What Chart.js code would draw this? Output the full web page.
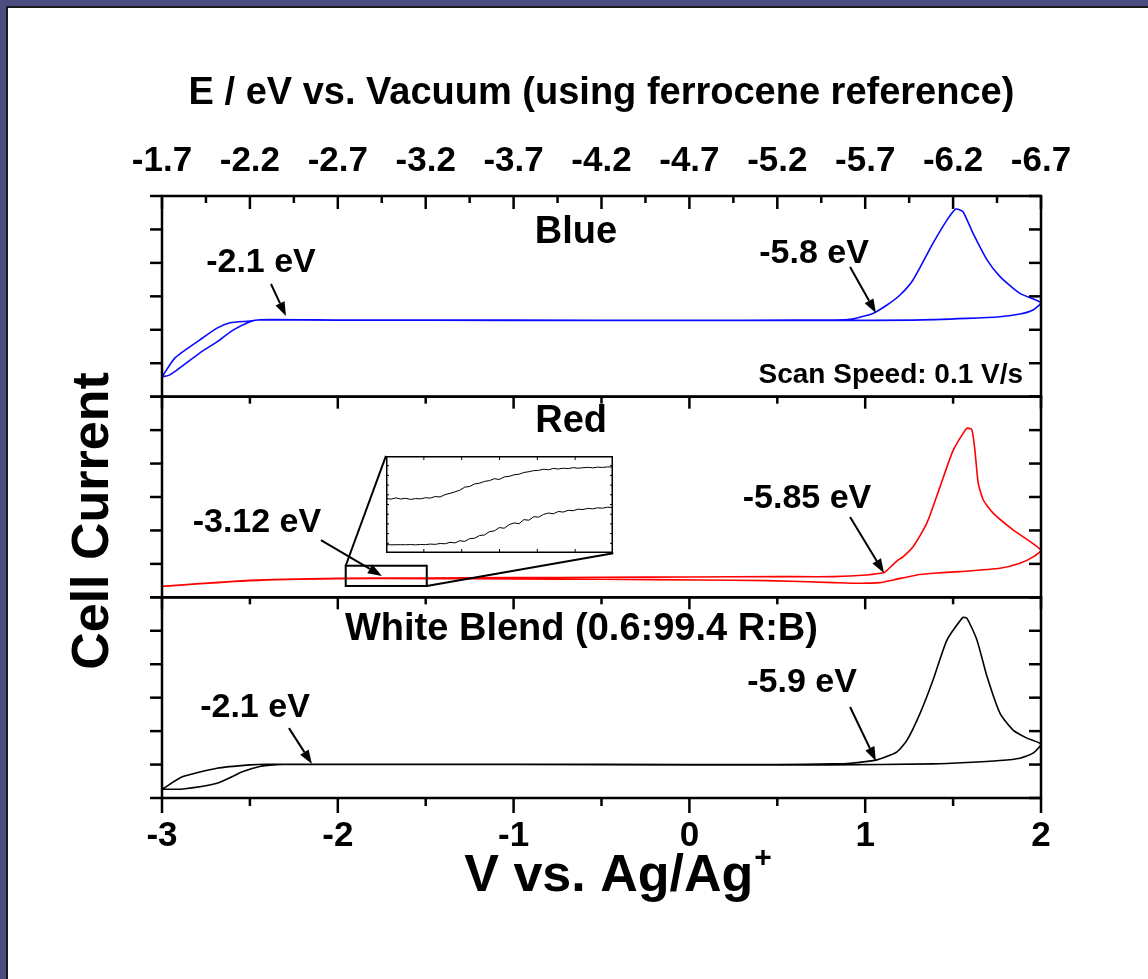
<!DOCTYPE html>
<html>
<head>
<meta charset="utf-8">
<title>Cell current vs. potential</title>
<script src="https://cdn.jsdelivr.net/npm/chart.js@4.4.1/dist/chart.umd.min.js"></script>
<style>
  html, body { margin: 0; padding: 0; }
  body { width: 1148px; height: 979px; background: #4d4c80; position: relative; overflow: hidden; }
  .slide { position: absolute; left: 6px; top: 6px; right: 0; bottom: 0; background: #fff;
           border-left: 2px solid #1a1a1a; border-top: 2px solid #1a1a1a; }
  #main { position: absolute; left: 0; top: 0; }
  #insetBox { position: absolute; background: #fff; }
  #insetBox canvas { display: block; }
</style>
</head>
<body>
<div class="slide"></div>
<canvas id="main" width="1148" height="979"></canvas>
<div id="insetBox"><canvas id="inset"></canvas></div>
<script>
"use strict";
const FONT = "'Liberation Sans', Arial, Helvetica, sans-serif";
Chart.defaults.font.family = FONT;
Chart.defaults.color = "#000";

// axis ticks: bottom in V vs Ag/Ag+, top in eV vs vacuum
const vTicks = [-3, -2, -1, 0, 1, 2];
const eTicks = [-1.7, -2.2, -2.7, -3.2, -3.7, -4.2, -4.7, -5.2, -5.7, -6.2, -6.7];

// Blue: forward scan then return scan
const blueV = [-3.0, -2.926, -2.784, -2.687, -2.613, -2.499, -2.443, -2.0, -1.0, 0.0, 0.6, 0.817, 0.914, 1.044, 1.124, 1.198, 1.272, 1.386, 1.465, 1.516, 1.556, 1.613, 1.693, 1.767, 1.880, 2.0,
               1.955, 1.880, 1.767, 1.579, 1.272, 0.817, 0.0, -1.0, -2.0, -2.443, -2.499, -2.596, -2.687, -2.784, -2.955, -3.0];
const blueI = [0.59, 1.16, 1.70, 2.05, 2.21, 2.26, 2.30, 2.29, 2.29, 2.28, 2.29, 2.29, 2.31, 2.49, 2.74, 3.04, 3.49, 4.59, 5.28, 5.61, 5.53, 4.89, 4.09, 3.59, 3.09, 2.81,
               2.59, 2.47, 2.39, 2.34, 2.29, 2.28, 2.28, 2.28, 2.29, 2.30, 2.24, 1.99, 1.64, 1.31, 0.65, 0.59];

// Red
const redV = [-3.0, -2.5, -2.0, -1.5, -1.0, -0.5, 0.0, 0.5, 0.819, 1.009, 1.109, 1.122, 1.188, 1.215, 1.272, 1.350, 1.426, 1.501, 1.577, 1.606, 1.624, 1.643, 1.672, 1.729, 1.843, 2.0,
              1.956, 1.880, 1.767, 1.539, 1.387, 1.293, 1.160, 1.084, 0.971, 0.819, 0.440, 0.060, -0.5, -1.0, -1.5, -2.0, -2.5, -3.0];
const redI = [0.33, 0.51, 0.57, 0.58, 0.59, 0.60, 0.61, 0.62, 0.62, 0.67, 0.74, 0.80, 1.12, 1.21, 1.51, 2.21, 3.31, 4.40, 5.05, 5.02, 4.40, 3.41, 2.91, 2.51, 2.01, 1.41,
              1.21, 1.02, 0.87, 0.77, 0.72, 0.67, 0.52, 0.44, 0.42, 0.44, 0.50, 0.52, 0.54, 0.55, 0.56, 0.56, 0.50, 0.33];

// White blend
const whiteV = [-3.0, -2.881, -2.687, -2.499, -2.403, -2.0, -1.0, 0.0, 0.5, 0.817, 0.914, 1.067, 1.181, 1.238, 1.312, 1.386, 1.465, 1.556, 1.579, 1.636, 1.693, 1.767, 1.841, 1.920, 2.0,
                1.955, 1.880, 1.767, 1.579, 1.386, 0.8, 0.0, -1.0, -2.0, -2.312, -2.443, -2.539, -2.687, -2.881, -3.0];
const whiteI = [0.26, 0.64, 0.89, 0.99, 1.01, 1.01, 1.01, 1.00, 1.00, 1.02, 1.04, 1.14, 1.38, 1.73, 2.53, 3.53, 4.72, 5.40, 5.37, 4.72, 3.63, 2.53, 2.03, 1.79, 1.61,
                1.34, 1.19, 1.12, 1.06, 1.02, 0.99, 0.99, 1.00, 1.00, 1.00, 0.94, 0.79, 0.44, 0.27, 0.26];

// zoomed piece of the red scan (inset)
const insetV = [-1.955, -1.945, -1.935, -1.925, -1.915, -1.905, -1.895, -1.885, -1.875, -1.865, -1.855, -1.845, -1.835, -1.825, -1.815, -1.805,
                -1.795, -1.785, -1.775, -1.765, -1.755, -1.745, -1.735, -1.725, -1.715, -1.705, -1.695, -1.685, -1.675, -1.665, -1.655, -1.645,
                -1.635, -1.625, -1.615, -1.605, -1.595, -1.585, -1.575, -1.565, -1.555, -1.545, -1.535, -1.525, -1.515, -1.505, -1.495];
const insetUpper = [5.62, 5.55, 5.68, 5.57, 5.64, 5.52, 5.61, 5.58, 5.70, 5.66, 5.82, 5.78, 6.02, 6.15, 6.30, 6.48,
                    6.79, 6.86, 7.12, 7.20, 7.38, 7.46, 7.66, 7.58, 7.84, 7.90, 8.06, 8.12, 8.30, 8.38, 8.49, 8.52,
                    8.64, 8.58, 8.72, 8.66, 8.74, 8.70, 8.80, 8.74, 8.79, 8.83, 8.78, 8.85, 8.82, 8.88, 8.86];
const insetLower = [0.85, 0.85, 0.85, 0.86, 0.85, 0.87, 0.84, 0.88, 0.86, 0.92, 0.89, 0.98, 0.95, 1.10, 1.04, 1.26,
                    1.20, 1.48, 1.52, 1.80, 1.86, 2.20, 2.28, 2.62, 2.55, 2.92, 3.10, 3.02, 3.44, 3.38, 3.74, 3.70,
                    3.98, 4.12, 4.04, 4.28, 4.22, 4.40, 4.36, 4.52, 4.48, 4.60, 4.55, 4.66, 4.62, 4.72, 4.69];

// text placed in data coordinates of each panel
const labels = [
  {axis: "yB", text: "Blue", at: [-0.645, 4.60], size: 38},
  {axis: "yR", text: "Red", at: [-0.673, 4.95], size: 38},
  {axis: "yW", text: "White Blend (0.6:99.4 R:B)", at: [-0.614, 4.72], size: 38}
];
const notes = [
  {axis: "yB", text: "-2.1 eV", at: [-2.437, 3.73], from: [-2.380, 3.37], to: [-2.295, 2.41]},
  {axis: "yB", text: "-5.8 eV", at: [0.709, 4.00], from: [0.914, 3.88], to: [1.061, 2.50]},
  {axis: "yR", text: "-3.12 eV", at: [-2.460, 1.95], from: [-2.096, 1.71], to: [-1.749, 0.64]},
  {axis: "yR", text: "-5.85 eV", at: [0.669, 2.67], from: [0.914, 2.40], to: [1.107, 0.73]},
  {axis: "yW", text: "-2.1 eV", at: [-2.471, 2.42], from: [-2.278, 2.09], to: [-2.147, 1.02]},
  {axis: "yW", text: "-5.9 eV", at: [0.641, 3.17], from: [0.914, 2.72], to: [1.061, 1.11]}
];
// zoom window on the red trace and where its inset sits (red panel coords)
const zoomWin = {v0: -1.955, v1: -1.494, top: 0.945, bottom: 0.34};
const insetWin = {v0: -1.726, v1: -0.433, top: 4.23, bottom: 1.32};

function pts(xs, ys) {
  return xs.map((x, i) => ({x: x, y: ys[i]}));
}

function trace(xs, ys, color, axis) {
  return {data: pts(xs, ys), yAxisID: axis, showLine: true, borderColor: color, borderWidth: 1.6,
          pointRadius: 0, tension: 0.2, fill: false};
}

function seg(ctx, x1, y1, x2, y2) {
  ctx.beginPath();
  ctx.moveTo(x1, y1);
  ctx.lineTo(x2, y2);
  ctx.stroke();
}

function arrow(ctx, x1, y1, x2, y2) {
  const a = Math.atan2(y2 - y1, x2 - x1), L = 14, W = 5;
  const bx = x2 - L * Math.cos(a), by = y2 - L * Math.sin(a);
  ctx.lineWidth = 2;
  seg(ctx, x1, y1, bx, by);
  ctx.beginPath();
  ctx.moveTo(x2, y2);
  ctx.lineTo(bx + W * Math.sin(a), by - W * Math.cos(a));
  ctx.lineTo(bx - W * Math.sin(a), by + W * Math.cos(a));
  ctx.closePath();
  ctx.fill();
}

function boldText(ctx, str, x, y, size, align) {
  ctx.font = "bold " + size + "px " + FONT;
  ctx.textAlign = align || "center";
  ctx.textBaseline = "alphabetic";
  ctx.fillText(str, x, y);
}

function winRect(chart, w) {
  const x = chart.scales.x, y = chart.scales.yR;
  return {l: x.getPixelForValue(w.v0), r: x.getPixelForValue(w.v1),
          t: y.getPixelForValue(w.top), b: y.getPixelForValue(w.bottom)};
}

// frames, tick marks and all the free text
const decor = {
  id: "decor",
  afterDatasetsDraw(chart) {
    const {ctx, chartArea: a, scales: s} = chart;
    ctx.save();
    ctx.strokeStyle = "#000";
    ctx.fillStyle = "#000";

    ctx.lineWidth = 2.5;
    ["yB", "yR", "yW"].forEach(id => {
      const p = s[id];
      ctx.strokeRect(a.left, p.top, a.right - a.left, p.bottom - p.top);
      for (let v = 0; v <= 6; v++) {
        const yy = p.getPixelForValue(v);
        seg(ctx, a.left - 12, yy, a.left, yy);
        seg(ctx, a.right - 12, yy, a.right, yy);
      }
    });

    // top eV axis, ticks pointing in
    for (let k = 0; k <= 20; k++) {
      const xx = s.xTop.getPixelForValue(-1.7 - k * 0.25);
      seg(ctx, xx, a.top, xx, a.top + (k % 2 ? 7 : 13));
    }
    // inner panel tops and outer bottom axis
    for (let k = 0; k <= 10; k++) {
      const xx = s.x.getPixelForValue(-3 + k * 0.5);
      const len = k % 2 ? 7 : 12;
      seg(ctx, xx, s.yR.top, xx, s.yR.top + len);
      seg(ctx, xx, s.yW.top, xx, s.yW.top + len);
      seg(ctx, xx, a.bottom, xx, a.bottom + (k % 2 ? 8 : 15));
    }

    // axis titles
    ctx.save();
    ctx.translate(a.left - 68, (a.top + a.bottom) / 2 + 24);
    ctx.rotate(-Math.PI / 2);
    ctx.font = "bold 52px " + FONT;
    ctx.textAlign = "center";
    ctx.textBaseline = "middle";
    ctx.fillText("Cell Current", 0, 0);
    ctx.restore();

    ctx.font = "bold 52px " + FONT;
    const w1 = ctx.measureText("V vs. Ag/Ag").width;
    ctx.font = "bold 30px " + FONT;
    const w2 = ctx.measureText("+").width;
    const x0 = (a.left + a.right) / 2 + 16 - (w1 + w2) / 2;
    boldText(ctx, "V vs. Ag/Ag", x0, a.bottom + 93, 52, "left");
    boldText(ctx, "+", x0 + w1 + 1, a.bottom + 69, 30, "left");

    labels.forEach(l => {
      boldText(ctx, l.text, s.x.getPixelForValue(l.at[0]), s[l.axis].getPixelForValue(l.at[1]), l.size);
    });
    notes.forEach(n => {
      const p = s[n.axis];
      boldText(ctx, n.text, s.x.getPixelForValue(n.at[0]), p.getPixelForValue(n.at[1]), 34);
      arrow(ctx, s.x.getPixelForValue(n.from[0]), p.getPixelForValue(n.from[1]),
                 s.x.getPixelForValue(n.to[0]), p.getPixelForValue(n.to[1]));
    });
    boldText(ctx, "Scan Speed: 0.1 V/s", s.x.getPixelForValue(1.898), s.yB.getPixelForValue(0.41), 28, "right");

    // zoom window and leader lines to the inset
    const z = winRect(chart, zoomWin), r = winRect(chart, insetWin);
    ctx.lineWidth = 2;
    ctx.strokeRect(z.l, z.t, z.r - z.l, z.b - z.t);
    seg(ctx, z.l, z.t, r.l, r.t);
    seg(ctx, z.r, z.b, r.r, r.b);
    ctx.restore();
  }
};

const tickFont = {family: FONT, size: 35, weight: "bold"};
const panelAxis = {
  type: "linear", position: "left", stack: "cv", stackWeight: 1, min: 0, max: 6,
  ticks: {display: false}, grid: {display: false, drawTicks: false}, border: {display: false},
  afterFit: sc => { sc.width = 162; }
};

const chart = new Chart(document.getElementById("main"), {
  type: "scatter",
  data: {
    datasets: [
      trace(blueV, blueI, "#0a0aff", "yB"),
      trace(redV, redI, "#ff0000", "yR"),
      trace(whiteV, whiteI, "#000000", "yW")
    ]
  },
  options: {
    responsive: false,
    animation: false,
    events: [],
    layout: {padding: {left: 0, right: 107, top: 0, bottom: 0}},
    plugins: {legend: {display: false}, tooltip: {enabled: false}},
    scales: {
      x: {
        type: "linear", position: "bottom", min: -3, max: 2,
        afterBuildTicks: sc => { sc.ticks = vTicks.map(v => ({value: v})); },
        ticks: {autoSkip: false, maxRotation: 0, padding: 17, color: "#000", font: tickFont, callback: v => String(v)},
        grid: {display: false, drawTicks: false}, border: {display: false},
        afterFit: sc => { sc.height = 181; }
      },
      xTop: {
        type: "linear", position: "top", min: -6.7, max: -1.7, reverse: true,
        afterBuildTicks: sc => { sc.ticks = eTicks.map(v => ({value: v})); },
        ticks: {autoSkip: false, maxRotation: 0, padding: 14, color: "#000", font: tickFont, callback: v => v.toFixed(1)},
        grid: {display: false, drawTicks: false}, border: {display: false},
        title: {display: true, text: "E / eV vs. Vacuum (using ferrocene reference)", color: "#000",
                font: {family: FONT, size: 38, weight: "bold"}, padding: {top: 71, bottom: 0}},
        afterFit: sc => { sc.height = 196; }
      },
      // left stack: last one listed ends up on top
      yW: Object.assign({}, panelAxis),
      yR: Object.assign({}, panelAxis),
      yB: Object.assign({}, panelAxis)
    }
  },
  plugins: [decor]
});

// inset chart laid over the red panel
const ir = winRect(chart, insetWin);
const box = document.getElementById("insetBox");
box.style.left = Math.round(ir.l) + "px";
box.style.top = Math.round(ir.t) + "px";
const ic = document.getElementById("inset");
ic.width = Math.round(ir.r - ir.l);
ic.height = Math.round(ir.b - ir.t);

const insetFrame = {
  id: "insetFrame",
  afterDatasetsDraw(c) {
    const {ctx, chartArea: a} = c;
    ctx.save();
    ctx.strokeStyle = "#000";
    ctx.lineWidth = 1.5;
    ctx.strokeRect(a.left + 0.75, a.top + 0.75, a.right - a.left - 1.5, a.bottom - a.top - 1.5);
    ctx.lineWidth = 1;
    for (let k = 1; k < 6; k++) {
      const xx = a.left + (a.right - a.left) * k / 6;
      seg(ctx, xx, a.top, xx, a.top + 4);
      seg(ctx, xx, a.bottom, xx, a.bottom - 4);
    }
    for (let k = 1; k < 10; k++) {
      const yy = c.scales.y.getPixelForValue(k);
      seg(ctx, a.left, yy, a.left + 3, yy);
      seg(ctx, a.right, yy, a.right - 3, yy);
    }
    ctx.restore();
  }
};

new Chart(ic, {
  type: "scatter",
  data: {
    datasets: [
      {data: pts(insetV, insetUpper), showLine: true, borderColor: "#000", borderWidth: 1, pointRadius: 0, tension: 0},
      {data: pts(insetV, insetLower), showLine: true, borderColor: "#000", borderWidth: 1, pointRadius: 0, tension: 0}
    ]
  },
  options: {
    responsive: false,
    animation: false,
    events: [],
    layout: {padding: 0},
    plugins: {legend: {display: false}, tooltip: {enabled: false}},
    scales: {
      x: {type: "linear", display: false, min: -1.955, max: -1.494},
      y: {type: "linear", display: false, min: 0, max: 10}
    }
  },
  plugins: [insetFrame]
});
</script>
</body>
</html>
